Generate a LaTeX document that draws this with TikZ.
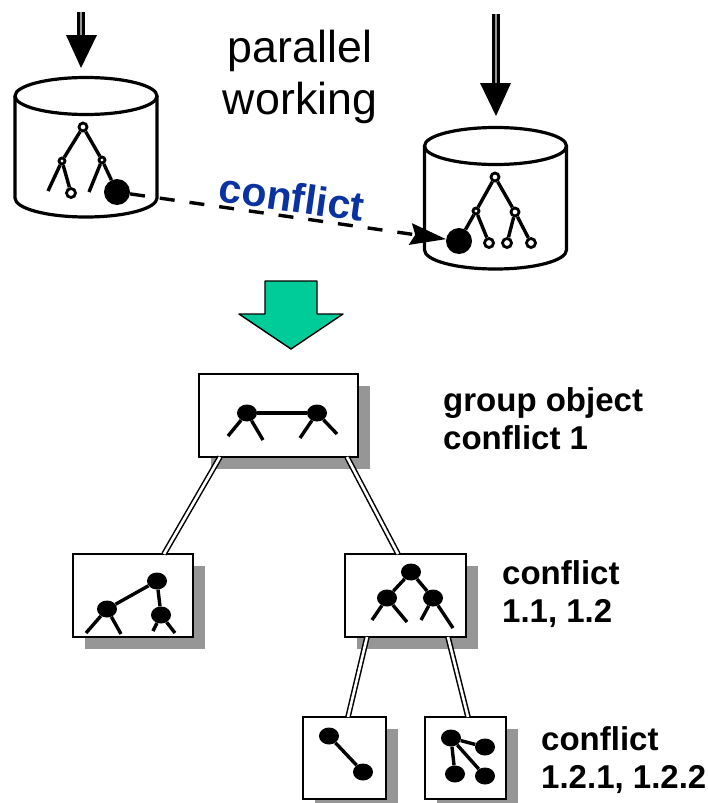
\documentclass[tikz,border=0pt]{standalone}
\usepackage{fontspec}
\setmainfont{Liberation Sans}
\usetikzlibrary{positioning, arrows.meta, shapes.geometric, shadows}
\definecolor{shade}{HTML}{969696}
\definecolor{flow}{HTML}{00CC99}
\definecolor{clash}{HTML}{0A32A0}
\tikzset{
    drum/.pic = {
    \draw[line width=3.2pt, fill=white] (-71,0) -- (-71,#1) arc[start angle=180, end angle=0, x radius=71, y radius=19] -- (71,0);
    \draw[line width=3.2pt] (0,0) ellipse[x radius=71, y radius=18.5];
    },
    card/.style={draw, fill=white, line width=1.8pt, outer sep=0pt, inner sep=0pt,
      drop shadow={shadow xshift=12pt, shadow yshift=-12pt, fill=shade, opacity=1}},
    knot/.style={circle, draw, fill=white, line width=2.8pt, inner sep=0pt, minimum size=#1},
    knot/.default=8pt,
    blob/.style={ellipse, fill=black, inner sep=0pt, minimum width=20pt, minimum height=17pt},
    head/.style={circle, fill=black, inner sep=0pt, minimum size=26pt},
    edge/.style={line width=3.4pt},
    link/.style={draw=black, double=white, line width=1.5pt, double distance=2.6pt},
    feed/.style={draw=black, double=shade, line width=3pt, double distance=1.6pt},
    tip/.style={fill=black, line width=0pt},
    note/.style={font=\fontsize{33}{38}\selectfont\bfseries, align=left, anchor=north west, inner sep=0pt},
}
\begin{document}
\begin{tikzpicture}[x=1pt, y=-1pt]
    \useasboundingbox (0,0) rectangle (708,803);

    \path (86,96) pic {drum=102};
    \path (495.5,146) pic {drum=104};

    \coordinate (inl) at (81,12);
    \coordinate (arrl) at (81,40);
    \coordinate (tipl) at (81,68);
    \draw[feed] (inl) -- (arrl);
    \fill[tip] (66,35) -- (97,35) -- (tipl) -- cycle;

    \coordinate (inr) at (496,14);
    \coordinate (arrr) at (496,88);
    \coordinate (tipr) at (496,116);
    \draw[feed] (inr) -- (arrr);
    \fill[tip] (480,83) -- (511,83) -- (tipr) -- cycle;

    \node[knot] (a0) at (83,127) {};
    \node[knot=6pt] (a1) at (62,161) {};
    \node[knot=6pt] (a2) at (102,160) {};
    \node[knot=9pt] (a3) at (71,193) {};
    \node[head] (a4) at (117,192) {};
    \coordinate (a5) at (48,191);
    \coordinate (a6) at (89,192);
    \draw[edge] (a0) -- (a1);
    \draw[edge] (a0) -- (a2);
    \draw[edge] (a1) -- (a3);
    \draw[edge] (a1) -- (a5);
    \draw[edge] (a2) -- (a4);
    \draw[edge] (a2) -- (a6);

    \node[knot] (b0) at (495,177) {};
    \node[knot=6pt] (b1) at (476,211) {};
    \node[knot] (b2) at (515,212) {};
    \node[head] (b3) at (459,241) {};
    \node[knot=9pt] (b4) at (489,243) {};
    \node[knot=9pt] (b5) at (507,243) {};
    \node[knot=9pt] (b6) at (531,243) {};
    \draw[edge] (b0) -- (b1);
    \draw[edge] (b0) -- (b2);
    \draw[edge] (b1) -- (b3);
    \draw[edge] (b1) -- (b4);
    \draw[edge] (b2) -- (b5);
    \draw[edge] (b2) -- (b6);

    \draw[edge, dash pattern=on 15pt off 15pt, -{Stealth[length=36pt, width=22pt, inset=5pt, line width=0pt]}] (a4) -- (b3);

    \node[font=\fontsize{44.7}{52}\selectfont, align=center, inner sep=0pt] (par) at (300,77) {parallel\\working};
    \node[font=\fontsize{41}{46}\selectfont\bfseries, text=clash, rotate=-8, inner sep=0pt] (cfl) at (292,197) {conflict};

    \draw[fill=flow, line width=1.4pt, line join=round] (265,281) -- (317,281) -- (317,314) -- (343,314) -- (291,349) -- (239,314) -- (265,314) -- cycle;

    \node[card, minimum width=159pt, minimum height=83pt, anchor=north west] (grp) at (199,374) {};
    \node[card, minimum width=120pt, minimum height=83pt, below=97pt of grp, xshift=-145.5pt] (lbox) {};
    \node[card, minimum width=121pt, minimum height=83pt, below=97pt of grp, xshift=127pt] (rbox) {};
    \node[card, minimum width=83pt, minimum height=82pt, below=80pt of rbox, xshift=-61pt] (sbox) {};
    \node[card, minimum width=81pt, minimum height=82pt, right=39pt of sbox] (tbox) {};

    \draw[link] ([xshift=21pt]grp.south west) -- ([xshift=91pt]lbox.north west);
    \draw[link] ([xshift=-11pt]grp.south east) -- ([xshift=53pt]rbox.north west);
    \draw[link] ([xshift=22pt]rbox.south west) -- ([xshift=45pt]sbox.north west);
    \draw[link] ([xshift=103pt]rbox.south west) -- ([xshift=43pt]tbox.north west);

    \node[blob] (g0) at (247,413) {};
    \node[blob] (g1) at (317,413) {};
    \coordinate (g2) at (228,436);
    \coordinate (g3) at (263,440);
    \coordinate (g4) at (300,438);
    \coordinate (g5) at (337,434);
    \draw[edge] (g0) -- (g1);
    \draw[edge] (g0) -- (g2);
    \draw[edge] (g0) -- (g3);
    \draw[edge] (g1) -- (g4);
    \draw[edge] (g1) -- (g5);

    \node[blob] (l0) at (157,581) {};
    \node[blob] (l1) at (107,609) {};
    \node[blob] (l2) at (161,615) {};
    \coordinate (l3) at (86,633);
    \coordinate (l4) at (121,634);
    \coordinate (l5) at (153,631);
    \coordinate (l6) at (175,633);
    \draw[edge] (l0) -- (l1);
    \draw[edge] (l0) -- (l2);
    \draw[edge] (l1) -- (l3);
    \draw[edge] (l1) -- (l4);
    \draw[edge] (l2) -- (l5);
    \draw[edge] (l2) -- (l6);

    \node[blob] (r0) at (411,572) {};
    \node[blob] (r1) at (387,598) {};
    \node[blob] (r2) at (433,598) {};
    \coordinate (r3) at (372,620);
    \coordinate (r4) at (407,622);
    \coordinate (r5) at (421,620);
    \coordinate (r6) at (453,628);
    \draw[edge] (r0) -- (r1);
    \draw[edge] (r0) -- (r2);
    \draw[edge] (r1) -- (r3);
    \draw[edge] (r1) -- (r4);
    \draw[edge] (r2) -- (r5);
    \draw[edge] (r2) -- (r6);

    \node[blob] (s0) at (329,736) {};
    \node[blob] (s1) at (363,772) {};
    \draw[edge] (s0) -- (s1);

    \node[blob] (t0) at (451,738) {};
    \node[blob] (t1) at (485,747) {};
    \node[blob] (t2) at (455,774) {};
    \node[blob] (t3) at (485,776) {};
    \draw[edge] (t0) -- (t1);
    \draw[edge] (t0) -- (t2);
    \draw[edge] (t0) -- (t3);

    \node[note] (gtxt) at (443,387) {group object\\conflict 1};
    \node[note] (rtxt) at (502,560) {conflict\\1.1, 1.2};
    \node[note] (ttxt) at (541,726) {conflict\\1.2.1, 1.2.2};
\end{tikzpicture}
\end{document}
